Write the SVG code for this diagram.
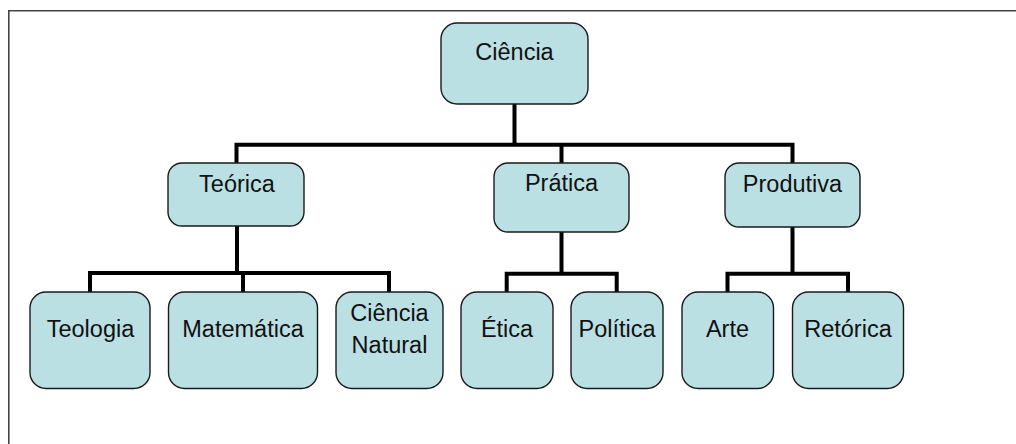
<svg xmlns="http://www.w3.org/2000/svg" width="1016" height="444" viewBox="0 0 1016 444">
<style>
.n{fill:#BAE0E3;stroke:#1a1a1a;stroke-width:1.4}
.t{font-family:"Liberation Sans",Arial,sans-serif;font-size:23.5px;fill:#111;text-anchor:middle}
.c{fill:none;stroke:#000;stroke-width:4;stroke-linecap:butt;stroke-linejoin:miter}
</style>
<rect width="1016" height="444" fill="#fff"/>
<path d="M8.8 444 V10.8 H1016" fill="none" stroke="#444" stroke-width="1.6"/>
<g id="connectors">
<path class="c" d="M514.5 104 V144.7 M236.5 163 V144.7 H792.5 V163 M561.5 144.7 V163"/>
<path class="c" d="M237 226 V273 M90 292 V273 H389 V292 M243 273 V292"/>
<path class="c" d="M561.5 232 V273.7 M506.7 292 V273.7 H616.7 V292"/>
<path class="c" d="M792.5 227 V273.7 M727.5 292 V273.7 H848 V292"/>
</g>
<g id="ciencia"><rect class="n" x="441" y="23" width="147" height="81" rx="16"/><text class="t" x="514.5" y="60">Ciência</text></g>
<g id="teorica"><rect class="n" x="168" y="163" width="136" height="63" rx="14"/><text class="t" x="237" y="192">Teórica</text></g>
<g id="pratica"><rect class="n" x="494" y="163" width="135" height="69" rx="14"/><text class="t" x="561.5" y="191">Prática</text></g>
<g id="produtiva"><rect class="n" x="725" y="163" width="135" height="64" rx="14"/><text class="t" x="792.5" y="192">Produtiva</text></g>
<g id="teologia"><rect class="n" x="30" y="292" width="120" height="96.5" rx="16"/><text class="t" x="90.5" y="337">Teologia</text></g>
<g id="matematica"><rect class="n" x="168.5" y="292" width="149" height="96.5" rx="16"/><text class="t" x="243" y="337">Matemática</text></g>
<g id="ciencia-natural"><rect class="n" x="336" y="292" width="107" height="96.5" rx="16"/><text class="t" x="389.5" y="321">Ciência</text><text class="t" x="389.5" y="352.7">Natural</text></g>
<g id="etica"><rect class="n" x="461" y="292" width="92" height="96.5" rx="16"/><text class="t" x="507" y="337">Ética</text></g>
<g id="politica"><rect class="n" x="571" y="292" width="92" height="96.5" rx="16"/><text class="t" x="617" y="337">Política</text></g>
<g id="arte"><rect class="n" x="682" y="292" width="91.5" height="96.5" rx="16"/><text class="t" x="727.5" y="337">Arte</text></g>
<g id="retorica"><rect class="n" x="792.5" y="292" width="111" height="96.5" rx="16"/><text class="t" x="848" y="337">Retórica</text></g>
</svg>
